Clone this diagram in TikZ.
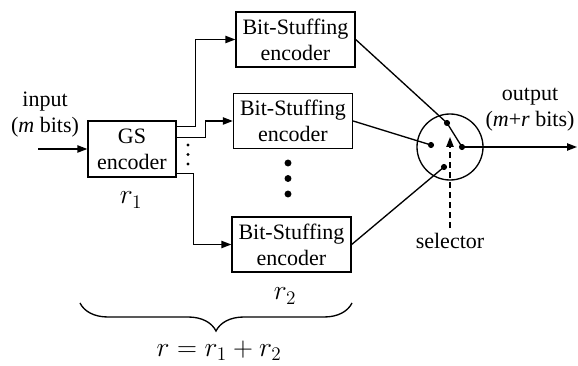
\documentclass[tikz,border=0pt]{standalone}
\usepackage[no-math]{fontspec}
\setmainfont{Liberation Serif}
\usetikzlibrary{arrows.meta,calc,decorations.pathreplacing}

\tikzset{every picture/.style={line width=1pt}}
\tikzset{
	txt/.style={align=center, font=\fontsize{16.5}{19.5}\selectfont},
	mathlab/.style={font=\fontsize{20.74}{25}\selectfont},
	gsbox/.style={txt, draw, inner sep=0pt, minimum width=66pt, minimum height=42pt},
	bsbox/.style={txt, draw, inner sep=0pt, minimum width=89.25pt, minimum height=41.25pt},
	swdot/.style={circle, fill, inner sep=0pt, minimum size=4.6pt},
	vdot/.style={circle, fill, inner sep=0pt, minimum size=#1},
	arr/.style={-{Triangle[length=7.5pt,width=5.5pt]}}}

\begin{document}
\begin{tikzpicture}[x=0.75pt,y=0.75pt,yscale=-1,xscale=1]
	\useasboundingbox (0,0) rectangle (578,366);

	% Encoders
	\node [gsbox] (gs) at (132,149) {GS\\encoder};
	\node [bsbox] (bs1) at (295.5,39.5) {Bit-Stuffing\\encoder};
	\node [bsbox] (bs2) at (293,121) {Bit-Stuffing\\encoder};
	\node [bsbox] (bs3) at (291.5,244.5) {Bit-Stuffing\\encoder};

	% Selector switch
	\node [draw, circle, inner sep=0pt, minimum size=49.5pt] (sel) at (450,147) {};
	\node [swdot] (d1) at (447,123) {};
	\node [swdot] (d2) at (431,145) {};
	\node [swdot] (d3) at (444,167) {};
	\node [swdot] (dout) at (462,147) {};

	% Text Node
	\node [txt] (inlab) at (45,115) {input\\(\textit{m} bits)};
	% Text Node
	\node [txt] (outlab) at (530,110) {output\\(\textit{m}+\textit{r} bits)};
	% Text Node
	\node [txt] (sellab) at (450,241) {selector};
	% Text Node
	\node [mathlab] (r1lab) at (131,200) {$r_1$};
	% Text Node
	\node [mathlab] (r2lab) at (285,296) {$r_2$};
	% Text Node
	\node [mathlab] (rsum) at (219,351) {$r = r_1 + r_2$};

	% Dots
	\foreach \y [count=\i] in {145,154.5,164}
		\node [vdot=2.4pt] (gsv\i) at (188,\y) {};
	\foreach \y [count=\i] in {163,178.5,194}
		\node [vdot=5.2pt] (bsv\i) at (288,\y) {};

	% Input / output
	\coordinate (inend) at (38,149);
	\coordinate (outend) at (577,147);
	\draw [arr] (inend) -- (gs.west);
	\draw [arr] (dout.center) -- (outend);

	% GS outputs
	\coordinate (o1) at ($(gs.north east)!0.107!(gs.south east)$);
	\coordinate (o2) at ($(gs.north east)!0.30!(gs.south east)$);
	\coordinate (o3) at ($(gs.north east)!0.93!(gs.south east)$);
	\draw [arr] (o1) -- ++(19,0) |- (bs1.west);
	\draw [arr] (o2) -- ++(29,0) |- (bs2.west);
	\draw [arr] (o3) -- ++(17,0) |- (bs3.west);

	% Into the selector
	\draw (bs1.east) -- (d1.center) -- (dout.center);
	\draw (bs2.east) -- (d2.center);
	\draw (bs3.east) -- (d3.center);
	\coordinate (selhead) at (450,137);
	\draw [arr, dash pattern=on 4.5pt off 3pt] (sellab.north) -- (selhead);

	% Brace
	\coordinate (brl) at (80,303);
	\coordinate (brr) at (352,303);
	\draw [decorate, decoration={brace, mirror, amplitude=21pt}] (brl) -- (brr);

\end{tikzpicture}
\end{document}
